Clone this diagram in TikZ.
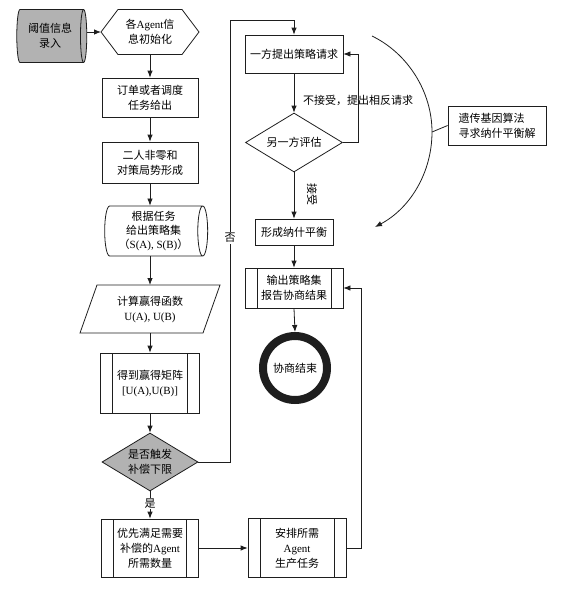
\documentclass[tikz,border=0pt]{standalone}
\usepackage{fontspec}
\setmainfont{Liberation Serif}
\newfontfamily\cjk{Noto Sans CJK SC}
\usetikzlibrary{shapes.geometric,arrows.meta,calc}
\newcommand{\en}[1]{{\rmfamily #1}}
\definecolor{fillgray}{RGB}{178,178,178}
\definecolor{ink}{RGB}{30,30,30}
\tikzset{
  base/.style={draw=ink, line width=0.8pt, font=\cjk\fontsize{11}{15}\selectfont, align=center, inner sep=0pt},
  txtbox/.style={font=\cjk\fontsize{11}{15}\selectfont, align=center, inner sep=0pt, outer sep=0pt},
  shapeline/.style={draw=ink, line width=0.8pt, line join=miter},
  proc/.style={base, rectangle},
  subproc/.style={base, rectangle, path picture={
    \draw[ink, line width=0.8pt] ([xshift=12pt]path picture bounding box.north west) -- ([xshift=12pt]path picture bounding box.south west);
    \draw[ink, line width=0.8pt] ([xshift=-12pt]path picture bounding box.north east) -- ([xshift=-12pt]path picture bounding box.south east);}},
  drum/.style={base, cylinder, shape aspect=0.25},
  dec/.style={base, diamond, aspect=1.65},
  term/.style={base, circle, line width=8pt},
  arr/.style={-{Latex[length=7pt,width=5.5pt]}, line width=0.8pt, draw=ink},
  plain/.style={line width=0.8pt, draw=ink},
  lbl/.style={font=\cjk\fontsize{11}{13}\selectfont, inner sep=1pt},
  graybg/.style={fill=fillgray}
}
\begin{document}
\begin{tikzpicture}[x=1pt,y=-1pt]
\useasboundingbox (0,0) rectangle (563,600);
% left column
\node[drum, graybg, minimum height=70pt, minimum width=53pt] (inp) at (50,36) {阈值信息\\录入};
\node[txtbox, minimum width=98pt, minimum height=45pt] (init) at (150,32) {各\en{Agent}信\\息初始化};
\draw[shapeline] (init.west) -- ([xshift=17pt]init.north west) -- ([xshift=-17pt]init.north east) -- (init.east) -- ([xshift=-17pt]init.south east) -- ([xshift=17pt]init.south west) -- cycle;
\node[proc, minimum width=96pt, minimum height=39pt] (order) at (150,97.5) {订单或者调度\\任务给出};
\node[proc, minimum width=96pt, minimum height=41pt] (twop) at (150,162.5) {二人非零和\\对策局势形成};
\node[drum, minimum height=103pt, minimum width=50pt, font=\cjk\fontsize{11}{14}\selectfont] (strat) at (153.5,231) {根据任务\\给出策略集\\（\en{S(A), S(B)}）};
\node[txtbox, minimum width=140pt, minimum height=48pt] (calcn) at (150,309) {计算赢得函数\\\en{U(A), U(B)}};
\draw[shapeline] ([xshift=17pt]calcn.north west) -- (calcn.north east) -- ([xshift=-17pt]calcn.south east) -- (calcn.south west) -- cycle;
\node[subproc, minimum width=99pt, minimum height=60pt] (mat) at (150,383) {得到赢得矩阵\\\en{[U(A),U(B)]}};
\node[dec, graybg, minimum width=96pt, minimum height=58pt] (trig) at (150,462) {是否触发\\补偿下限};
\node[subproc, minimum width=97pt, minimum height=58pt] (pri) at (150,548) {优先满足需要\\补偿的\en{Agent}\\所需数量};
\node[subproc, minimum width=98pt, minimum height=59pt] (arrange) at (297,548) {安排所需\\\en{Agent}\\生产任务};
% right column
\node[proc, minimum width=98pt, minimum height=38pt] (req) at (294,54) {一方提出策略请求};
\node[dec, minimum width=97pt, minimum height=59pt] (eval) at (294,142.5) {另一方评估};
\node[proc, minimum width=78pt, minimum height=26pt] (nash) at (294,232) {形成纳什平衡};
\node[subproc, minimum width=98pt, minimum height=40pt] (out) at (294,288) {输出策略集\\报告协商结果};
\node[term, minimum size=64pt] (fin) at (295,368) {协商结束};
\node[proc, minimum width=98pt, minimum height=39pt, align=left] (ga) at (497,125.5) {遗传基因算法\\寻求纳什平衡解};
% connectors
\draw[arr] (inp.east |- init.west) -- (init.west);
\draw[arr] (init.south) -- (order.north);
\draw[arr] (order.south) -- (twop.north);
\draw[arr] (twop.south) -- (twop.south |- strat.north);
\draw[arr] (strat.south -| calcn.north) -- (calcn.north);
\draw[arr] (calcn.south) -- (mat.north);
\draw[arr] (mat.south) -- (trig.north);
\draw[arr] (trig.south) -- node[lbl, fill=white, pos=0.45] {是} (pri.north);
\draw[arr] (pri.east) -- (arrange.west);
\coordinate (nocorner) at (230,20);
\draw[arr] (trig.east) -| (nocorner) -| (req.north);
\node[lbl, fill=white] (nolbl) at (230,238) {否};
\draw[arr] (req.south) -- (eval.north);
\draw[arr] (eval.east) -- ++(15,0) |- (req.east);
\node[lbl, anchor=west] (rejlbl) at (302,100) {不接受，提出相反请求};
\draw[arr] (eval.south) -- (nash.north);
\node[lbl, rotate=-90] (acclbl) at (312,194) {接受};
\draw[arr] (nash.south) -- (out.north);
\draw[arr] (out.south) -- (fin.north);
\draw[arr] (arrange.east) -- ++(15,0) |- (out.east);
% arc
\coordinate (a0) at (372,36);
\coordinate (amid) at (432,132);
\coordinate (a1) at (375,227);
\draw[arr] (a0) .. controls (408.1,53.6) and (432,91.8) .. (amid) .. controls (432,172.2) and (410.5,208.1) .. (a1);
\draw[plain] (amid) -- (ga.west);
\end{tikzpicture}
\end{document}
